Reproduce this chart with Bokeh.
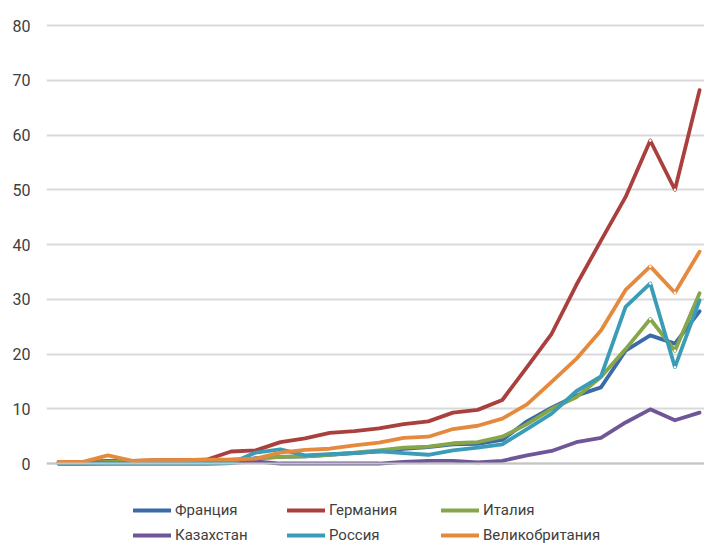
from bokeh.plotting import figure
from bokeh.models import Legend, LegendItem, Span, Range1d, FixedTicker
from bokeh.embed import file_html
from bokeh.resources import INLINE

# ---- data ----
idx = list(range(27))
france = [0.0, 0.0, 0.1, 0.1, 0.1, 0.1, 0.1, 0.2, 1.0, 1.2, 1.3, 1.6, 1.9, 2.2, 2.7, 3.0, 3.5, 3.6, 4.3, 7.7, 10.2, 12.4, 13.9, 20.6, 23.4, 21.9, 27.8]
germany = [0.3, 0.3, 0.5, 0.5, 0.6, 0.6, 0.7, 2.2, 2.4, 3.9, 4.6, 5.6, 5.9, 6.4, 7.2, 7.7, 9.3, 9.8, 11.6, 17.6, 23.7, 32.6, 40.7, 48.7, 59.0, 50.0, 68.2]
italy = [0.1, 0.1, 0.3, 0.5, 0.5, 0.5, 0.5, 0.7, 0.9, 1.2, 1.3, 1.6, 2.0, 2.4, 2.9, 3.1, 3.7, 3.9, 4.9, 7.2, 10.0, 12.1, 15.8, 20.9, 26.4, 20.6, 31.1]
kazakhstan = [0.0, 0.0, 0.0, 0.0, 0.0, 0.0, 0.0, 0.1, 0.4, 0.0, 0.0, 0.0, 0.0, 0.0, 0.3, 0.5, 0.5, 0.2, 0.5, 1.5, 2.3, 3.9, 4.7, 7.5, 9.9, 7.9, 9.3]
russia = [0.0, 0.0, 0.0, 0.0, 0.0, 0.0, 0.0, 0.1, 2.0, 2.6, 1.5, 1.7, 1.9, 2.2, 1.9, 1.6, 2.4, 2.9, 3.5, 6.3, 9.1, 13.2, 15.9, 28.6, 32.9, 17.6, 29.8]
uk = [0.3, 0.3, 1.5, 0.5, 0.6, 0.6, 0.7, 0.7, 0.9, 2.0, 2.5, 2.7, 3.3, 3.8, 4.7, 4.9, 6.3, 6.9, 8.2, 10.8, 14.9, 19.1, 24.3, 31.7, 36.0, 31.2, 38.7]

names = ["Франция", "Германия", "Италия", "Казахстан", "Россия", "Великобритания"]
series = [france, germany, italy, kazakhstan, russia, uk]
colors = ["#3a6ba8", "#aa403d", "#87a64a", "#6f5797", "#3a9cb6", "#e58a3c"]
dotted = [False, True, True, False, True, True]
y_ticks = [0, 10, 20, 30, 40, 50, 60, 70, 80]

FONT = "Roboto"

p = figure(width=704, height=544, output_backend="svg", toolbar_location=None,
           x_axis_location=None, min_border_left=46, min_border_right=0,
           min_border_top=0, min_border_bottom=0)
p.x_range = Range1d(-0.487, 26.2)
p.y_range = Range1d(-14.79, 84.57)
p.outline_line_color = None
p.background_fill_color = "white"
p.border_fill_color = "white"
p.xgrid.visible = False

ax = p.yaxis[0]
ax.ticker = FixedTicker(ticks=y_ticks)
ax.axis_line_color = None
ax.major_tick_line_color = None
ax.minor_tick_line_color = None
ax.major_tick_out = 0
ax.major_tick_in = 0
ax.major_label_standoff = 16
ax.major_label_text_font = FONT
ax.major_label_text_font_size = "16px"
ax.major_label_text_color = "#404040"

p.ygrid.grid_line_color = "#d9d9d9"
p.ygrid.grid_line_width = 2
p.add_layout(Span(location=0, dimension="width", line_color="#c4c4c4", line_width=2))

items = []
for name, vals, col in zip(names, series, colors):
    r = p.line(idx, vals, line_color=col, line_width=3.8, line_join="round", line_cap="round")
    items.append(LegendItem(label=name, renderers=[r]))

for vals, dot in zip(series, dotted):
    if dot:
        p.scatter([idx[24], idx[25]], [vals[24], vals[25]], size=2.5, fill_color="white",
                  line_color=None)

legend = Legend(items=items, orientation="horizontal", ncols=3,
                location=(87, 0), glyph_width=38, glyph_height=18,
                label_height=18, label_width=105, label_standoff=4, spacing=7,
                padding=0, margin=0, border_line_color=None, background_fill_alpha=0,
                label_text_font=FONT, label_text_font_size="15px",
                label_text_color="#404040")
p.add_layout(legend, "center")

open("out.html", "w").write(file_html(p, INLINE))
